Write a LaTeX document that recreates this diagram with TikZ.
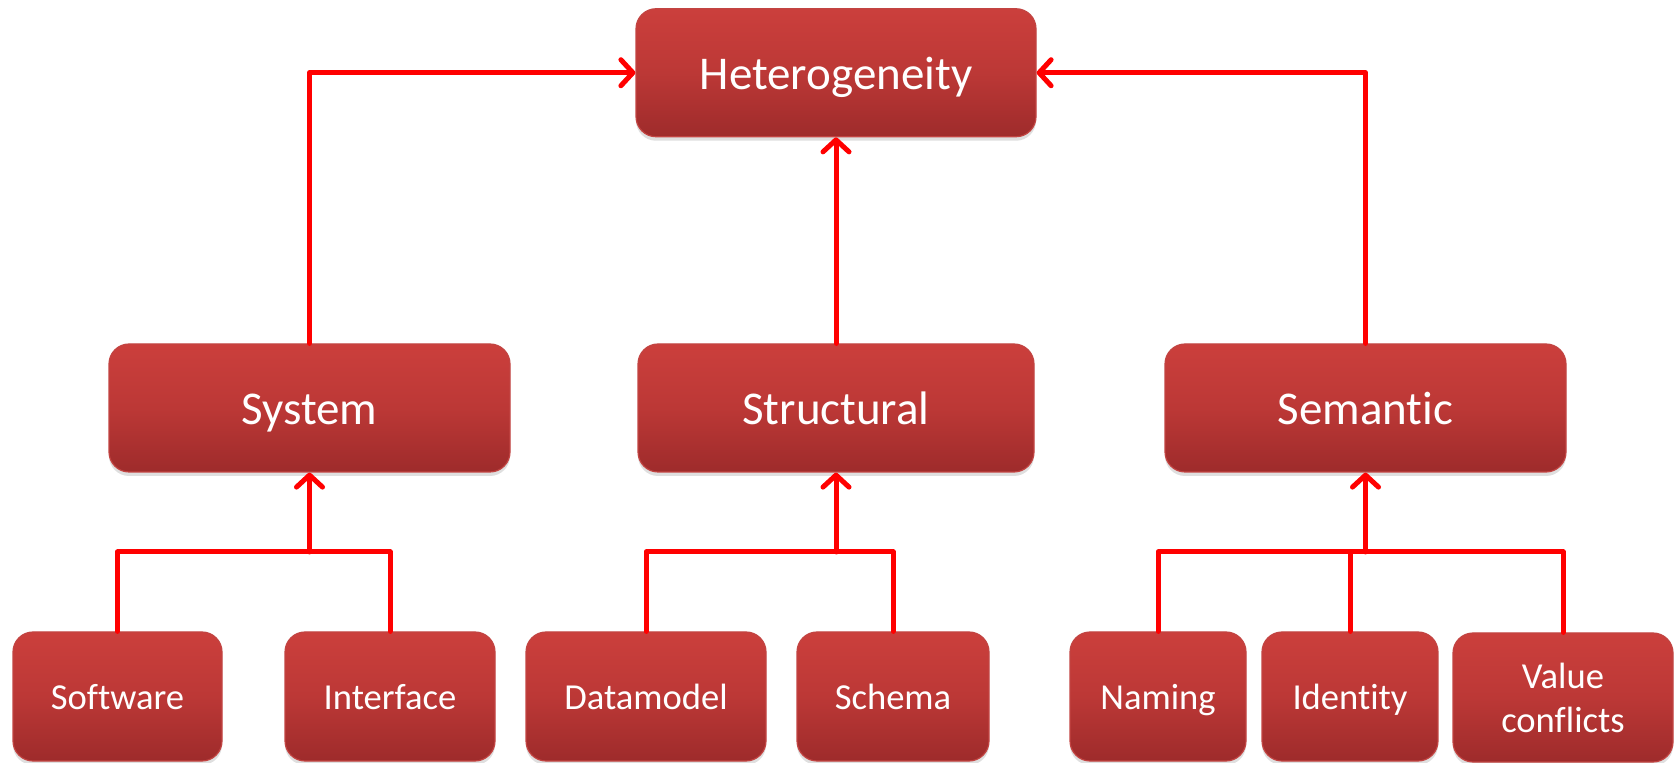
\documentclass[tikz,border=0pt]{standalone}
\usepackage{fontspec}
\setmainfont{Carlito}[Ligatures=NoCommon]
\usetikzlibrary{arrows.meta,shadows}
\definecolor{boxtop}{HTML}{CB3F3C}
\definecolor{boxmid}{HTML}{BC3836}
\definecolor{boxbot}{HTML}{9E2B2B}
\definecolor{boxline}{HTML}{C24442}
\definecolor{conn}{HTML}{FF0000}
\tikzset{
  hbox/.style={rounded corners=10pt, draw=boxline, line width=0.6pt,
    top color=boxtop, bottom color=boxbot, middle color=boxmid,
    text=white, inner sep=0pt,
    drop shadow={opacity=0.25, shadow xshift=0pt, shadow yshift=-2pt}},
  bigbox/.style={hbox, text height=21.5pt, text depth=4.7pt, minimum height=64pt, font=\fontsize{23.5}{28}\selectfont},
  smallbox/.style={hbox, minimum height=64.5pt, font=\fontsize{18.3}{22}\selectfont},
  oneline/.style={text height=16.8pt, text depth=3.7pt},
  link/.style={draw=conn, line width=2.5pt, line join=round, line cap=round},
  arr/.style={link, -{Straight Barb[length=6pt, width=13pt, line cap=round, line join=round]}}
}
\begin{document}
\begin{tikzpicture}[x=0.5pt, y=-0.5pt]
\useasboundingbox (0,0) rectangle (1675,763);
% top
\node[bigbox, minimum width=200pt] (het) at (836,72.75) {Heterogeneity};
% middle
\node[bigbox, minimum width=200.5pt] (sys) at (309.5,408) {System};
\node[bigbox, minimum width=198pt] (str) at (836,408) {Structural};
\node[bigbox, minimum width=200.5pt] (sem) at (1365.5,408) {Semantic};
% bottom
\node[smallbox, oneline, minimum width=104.5pt] (sw) at (117.5,696.5) {Software};
\node[smallbox, oneline, minimum width=105pt] (if) at (390,696.5) {Interface};
\node[smallbox, oneline, minimum width=120pt] (dm) at (646,696.5) {Datamodel};
\node[smallbox, oneline, minimum width=96pt] (sc) at (893,696.5) {Schema};
\node[smallbox, oneline, minimum width=88pt] (nm) at (1158,696.5) {Naming};
\node[smallbox, oneline, minimum width=88pt] (id) at (1350,696.5) {Identity};
\node[smallbox, align=center, minimum width=110pt] (vc) at (1563,697.5) {Value\\conflicts};
% junctions
\coordinate (j1) at (309.5,552);
\coordinate (j2) at (836,552);
\coordinate (j3) at (1365.5,552);
% upper connectors
\draw[arr] (sys.north) |- (het.west);
\draw[arr] (str.north) -- (het.south);
\draw[arr] (sem.north) |- (het.east);
% lower connectors
\draw[link] (sw.north) |- (j1) -| (if.north);
\draw[arr] (j1) -- (sys.south);
\draw[link] (dm.north) |- (j2) -| (sc.north);
\draw[arr] (j2) -- (str.south);
\draw[link] (nm.north) |- (j3) -| (vc.north);
\draw[link] (id.north) -- (id.north |- j3);
\draw[arr] (j3) -- (sem.south);
\end{tikzpicture}
\end{document}
